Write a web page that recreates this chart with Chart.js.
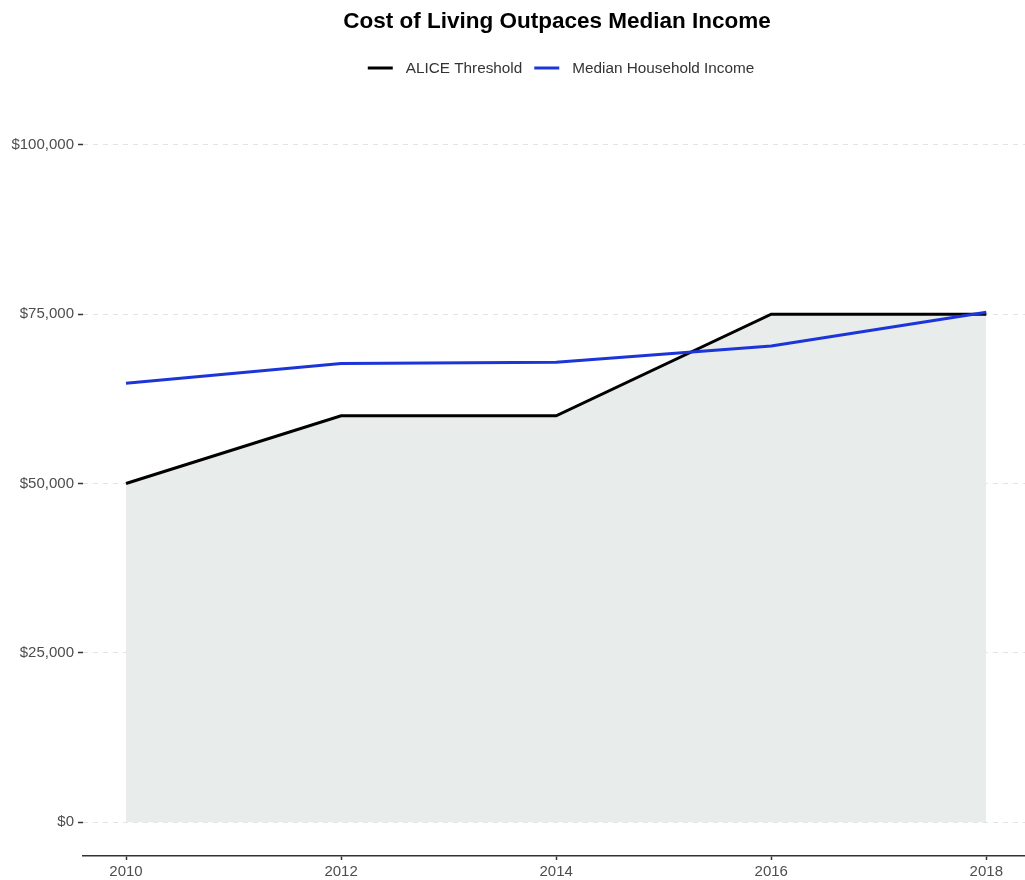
<!DOCTYPE html>
<html>
<head>
<meta charset="utf-8">
<script src="https://cdn.jsdelivr.net/npm/chart.js@4"></script>
<style>
  html, body { margin: 0; padding: 0; background: #fff; }
  #wrap { width: 1025px; height: 880px; }
</style>
</head>
<body>
<div id="wrap"><canvas id="myChart" width="1025" height="880"></canvas></div>
<script>
// data
const years = [2010, 2012, 2014, 2016, 2018];
const aliceThreshold = [50000, 60000, 60000, 75000, 75000];
const medianIncome = [64800, 67700, 67900, 70300, 75300];
const yTicks = [0, 25000, 50000, 75000, 100000];
const titleText = 'Cost of Living Outpaces Median Income';

const FONT = "'Liberation Sans', Arial, sans-serif";

// title + legend drawn by hand so they sit centred over the panel
const headerPlugin = {
  id: 'header',
  afterDraw(chart) {
    const ctx = chart.ctx;
    const cx = 557;
    ctx.save();
    ctx.fillStyle = '#000';
    ctx.font = 'bold 22.5px ' + FONT;
    ctx.textAlign = 'center';
    ctx.textBaseline = 'middle';
    ctx.fillText(titleText, cx, 22);

    // legend
    ctx.font = '15.3px ' + FONT;
    const items = chart.data.datasets.map(ds => ({ label: ds.label, color: ds.borderColor }));
    const sample = 25, gapText = 13, gapItem = 12;
    let total = 0;
    items.forEach((it, i) => {
      it.w = ctx.measureText(it.label).width;
      total += sample + gapText + it.w + (i < items.length - 1 ? gapItem : 0);
    });
    let x = 561 - total / 2;
    const y = 68;
    ctx.textAlign = 'left';
    items.forEach(it => {
      ctx.strokeStyle = it.color;
      ctx.lineWidth = 3;
      ctx.beginPath();
      ctx.moveTo(x, y);
      ctx.lineTo(x + sample, y);
      ctx.stroke();
      x += sample + gapText;
      ctx.fillStyle = '#333';
      ctx.fillText(it.label, x, y + 1);
      x += it.w + gapItem;
    });
    ctx.restore();
  }
};

const ctx = document.getElementById('myChart').getContext('2d');
const chart = new Chart(ctx, {
  type: 'line',
  data: {
    datasets: [{
      label: 'ALICE Threshold',
      data: years.map((yr, i) => ({ x: yr, y: aliceThreshold[i] })),
      borderColor: '#000000',
      backgroundColor: 'rgb(232, 236, 235)',
      borderWidth: 3,
      fill: 'origin',
      pointRadius: 0,
      tension: 0,
      order: 1
    }, {
      label: 'Median Household Income',
      data: years.map((yr, i) => ({ x: yr, y: medianIncome[i] })),
      borderColor: '#1c35d8',
      borderWidth: 3,
      fill: false,
      pointRadius: 0,
      tension: 0,
      order: 0
    }]
  },
  options: {
    responsive: false,
    animation: false,
    layout: { padding: { top: 111, left: 0, right: 0, bottom: 0 } },
    plugins: {
      legend: { display: false },
      title: { display: false },
      tooltip: { enabled: false }
    },
    scales: {
      x: {
        type: 'linear',
        min: 2009.6,
        max: 2018.36,
        afterBuildTicks: scale => { scale.ticks = years.map(v => ({ value: v })); },
        afterFit: scale => { scale.height = 24; },
        border: { display: true, color: '#333', width: 1.5 },
        grid: {
          drawOnChartArea: false,
          drawTicks: true,
          tickLength: 4,
          tickColor: '#333',
          tickWidth: 1.5
        },
        ticks: {
          padding: 3,
          color: '#4d4d4d',
          font: { family: FONT, size: 15 },
          maxRotation: 0,
          callback: v => String(v)
        }
      },
      y: {
        min: -5000,
        max: 105000,
        afterBuildTicks: scale => { scale.ticks = yTicks.map(v => ({ value: v })); },
        afterFit: scale => { scale.width = 83; },
        border: { display: false, dash: [5, 5] },
        grid: {
          color: '#e3e3e3',
          lineWidth: 1,
          drawTicks: true,
          tickLength: 5,
          tickColor: '#333',
          tickWidth: 1.5,
          tickBorderDash: []
        },
        ticks: {
          padding: 4,
          color: '#4d4d4d',
          font: { family: FONT, size: 15 },
          callback: v => '$' + v.toLocaleString('en-US')
        }
      }
    }
  },
  plugins: [headerPlugin]
});
</script>
</body>
</html>
